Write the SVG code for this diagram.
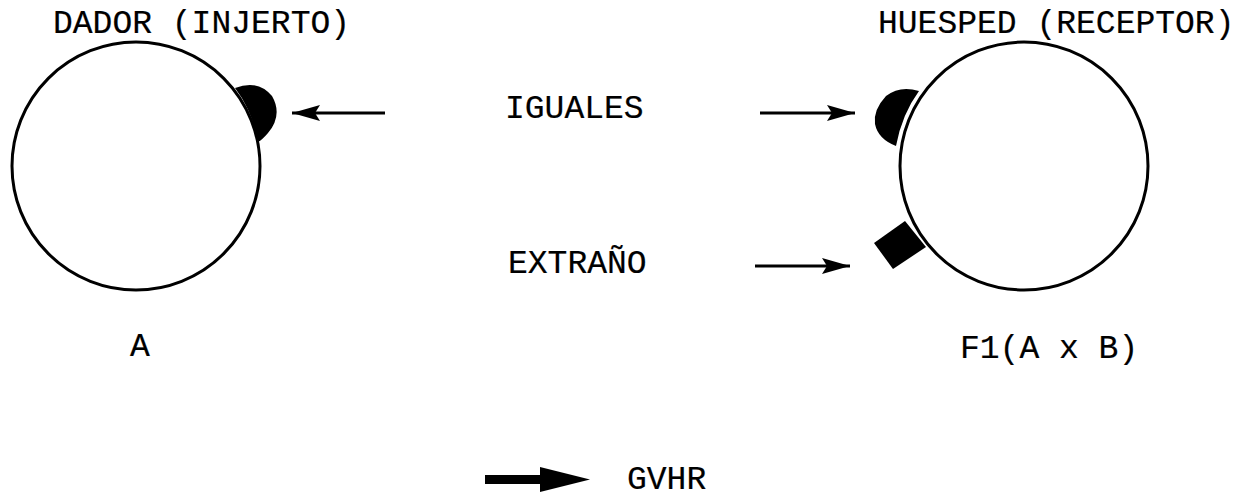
<svg xmlns="http://www.w3.org/2000/svg" width="1260" height="499" viewBox="0 0 1260 499">
  <style>
    .lbl { font-family: "Liberation Mono", "Courier New", monospace; font-size: 33px; fill: #000; stroke: #000; stroke-width: 0.2; }
    .cell { fill: #fff; stroke: #000; stroke-width: 3; }
    .mark { fill: #000; stroke: none; }
    .conn { stroke: #000; stroke-width: 3; fill: none; }
  </style>
  <defs>
    <marker id="head" viewBox="0 0 28 16" refX="28" refY="8" markerWidth="28" markerHeight="16" markerUnits="userSpaceOnUse" orient="auto">
      <path d="M0,0 L28,8 L0,16 L5,8 Z" fill="#000"/>
    </marker>
  </defs>
  <rect width="1260" height="499" fill="#fff"/>

  <!-- donor cell -->
  <g id="donor">
    <text class="lbl" x="53" y="33">DADOR (INJERTO)</text>
    <circle class="cell" cx="136" cy="166" r="124"/>
    <path class="mark" d="M235,88 Q258,79 272,96 Q283,115 268,133 Q262,140 258,142 Q252,110 235,88 Z"/>
    <text class="lbl" x="130" y="356">A</text>
  </g>

  <!-- host cell -->
  <g id="host">
    <text class="lbl" x="878" y="33">HUESPED (RECEPTOR)</text>
    <circle class="cell" cx="1024" cy="166" r="124"/>
    <path class="mark" d="M919,91 Q900,85 886,96 Q873,110 875,124 Q878,139 896,146 Q902,114 919,91 Z"/>
    <path class="mark" d="M874,243 L905,221 L926,247 L893,269 Z"/>
    <text class="lbl" x="960" y="358">F1(A x B)</text>
  </g>

  <g id="label-iguales">
    <text class="lbl" x="505" y="118">IGUALES</text>
  </g>
  <g id="label-extrano">
    <text class="lbl" x="508" y="273">EXTRAÑO</text>
  </g>

  <!-- legend -->
  <g id="legend">
    <rect class="mark" x="485" y="475" width="58" height="9"/>
    <path class="mark" d="M540,467 L590,479.5 L540,492 Z"/>
    <text class="lbl" x="627" y="489">GVHR</text>
  </g>

  <g id="connectors">
    <line class="conn" x1="385" y1="113" x2="292" y2="113" marker-end="url(#head)"/>
    <line class="conn" x1="760" y1="113" x2="855" y2="113" marker-end="url(#head)"/>
    <line class="conn" x1="755" y1="266" x2="850" y2="266" marker-end="url(#head)"/>
  </g>
</svg>
